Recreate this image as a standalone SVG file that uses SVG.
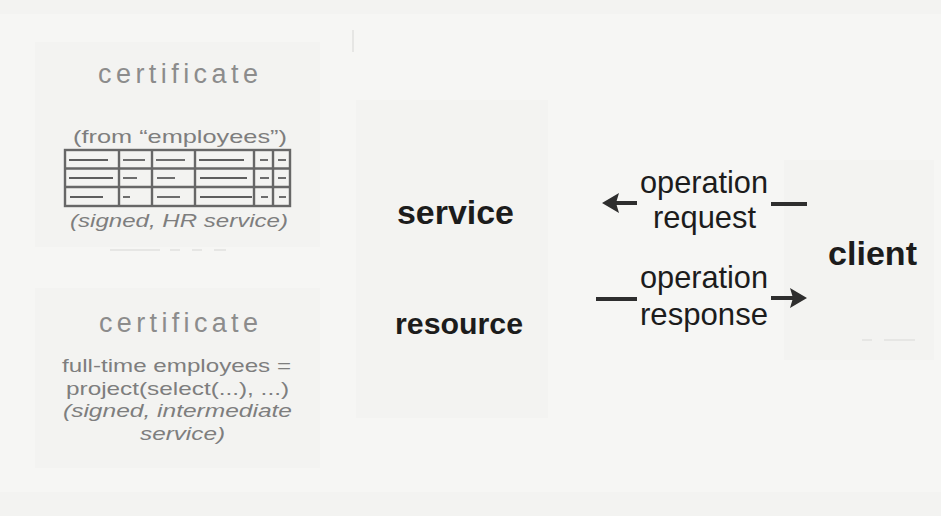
<svg xmlns="http://www.w3.org/2000/svg" width="941" height="516" viewBox="0 0 941 516">
  <defs>
    <style>
      .bg { fill: #f6f6f4; }
      .panel { fill: #f3f3f1; }
      .ghost { stroke: #e6e6e4; stroke-width: 2; fill: none; }
      .cert-title { font-family: "Liberation Sans", Arial, sans-serif; font-size: 27px; fill: #8c8c8c; }
      .cert-text { font-family: "Liberation Sans", Arial, sans-serif; font-size: 19px; fill: #7e7e7e; }
      .cert-note { font-family: "Liberation Sans", Arial, sans-serif; font-size: 19px; font-style: italic; fill: #7e7e7e; }
      .label-bold { font-family: "Liberation Sans", Arial, sans-serif; font-weight: bold; fill: #1c1c1c; }
      .label { font-family: "Liberation Sans", Arial, sans-serif; font-size: 30.5px; fill: #1c1c1c; }
      .grid { fill: none; stroke: #676767; stroke-width: 2.4; }
      .cell-line { stroke: #5e5e5e; stroke-width: 1.8; }
      .wire { fill: none; stroke: #2e2e2e; stroke-width: 4; }
    </style>
    <marker id="head" markerUnits="userSpaceOnUse" viewBox="0 0 17 20" markerWidth="17" markerHeight="20" refX="3" refY="10" orient="auto">
      <path d="M0,0 L17,10 L0,20 L3,10 z" fill="#2e2e2e"/>
    </marker>
  </defs>

  <!-- paper -->
  <rect class="bg" x="0" y="0" width="941" height="516"/>
  <rect x="0" y="0" width="941" height="14" fill="#f3f3f1"/>
  <rect x="0" y="492" width="941" height="24" fill="#f3f3f1"/>

  <!-- faint panel outlines -->
  <rect class="panel" x="35" y="42" width="285" height="205"/>
  <rect class="panel" x="35" y="288" width="285" height="180"/>
  <rect class="panel" x="356" y="100" width="192" height="318"/>
  <rect class="panel" x="784" y="160" width="150" height="200"/>
  <line class="ghost" x1="353" y1="30" x2="353" y2="52"/>
  <line class="ghost" x1="110" y1="250" x2="160" y2="250"/>
  <line class="ghost" x1="170" y1="250" x2="180" y2="250"/>
  <line class="ghost" x1="192" y1="250" x2="202" y2="250"/>
  <line class="ghost" x1="214" y1="250" x2="226" y2="250"/>
  <line class="ghost" x1="862" y1="340" x2="872" y2="340"/>
  <line class="ghost" x1="884" y1="340" x2="915" y2="340"/>

  <!-- upper certificate: signed HR table -->
  <g id="cert-employees">
    <text class="cert-title" x="98" y="83" textLength="160" lengthAdjust="spacing">certificate</text>
    <text class="cert-text" x="73" y="143" textLength="214" lengthAdjust="spacingAndGlyphs">(from “employees”)</text>
    <g id="employees-table">
      <rect class="grid" x="65" y="150" width="225" height="56"/>
      <line class="grid" x1="65" y1="168.5" x2="290" y2="168.5"/>
      <line class="grid" x1="65" y1="187" x2="290" y2="187"/>
      <line class="grid" x1="119" y1="150" x2="119" y2="206"/>
      <line class="grid" x1="152" y1="150" x2="152" y2="206"/>
      <line class="grid" x1="195" y1="150" x2="195" y2="206"/>
      <line class="grid" x1="254" y1="150" x2="254" y2="206"/>
      <line class="grid" x1="273" y1="150" x2="273" y2="206"/>
      <!-- row 1 -->
      <line class="cell-line" x1="69" y1="160" x2="108" y2="160"/>
      <line class="cell-line" x1="123" y1="160" x2="145" y2="160"/>
      <line class="cell-line" x1="156" y1="160" x2="185" y2="160"/>
      <line class="cell-line" x1="199" y1="160" x2="244" y2="160"/>
      <line class="cell-line" x1="260" y1="160" x2="268" y2="160"/>
      <line class="cell-line" x1="278" y1="160" x2="286" y2="160"/>
      <!-- row 2 -->
      <line class="cell-line" x1="69" y1="178" x2="113" y2="178"/>
      <line class="cell-line" x1="123" y1="178" x2="137" y2="178"/>
      <line class="cell-line" x1="157" y1="178" x2="175" y2="178"/>
      <line class="cell-line" x1="200" y1="178" x2="247" y2="178"/>
      <line class="cell-line" x1="260" y1="178" x2="269" y2="178"/>
      <line class="cell-line" x1="278" y1="178" x2="286" y2="178"/>
      <!-- row 3 -->
      <line class="cell-line" x1="70" y1="197" x2="103" y2="197"/>
      <line class="cell-line" x1="123" y1="197" x2="130" y2="197"/>
      <line class="cell-line" x1="157" y1="197" x2="180" y2="197"/>
      <line class="cell-line" x1="200" y1="197" x2="252" y2="197"/>
      <line class="cell-line" x1="261" y1="197" x2="268" y2="197"/>
      <line class="cell-line" x1="279" y1="197" x2="286" y2="197"/>
    </g>
    <text class="cert-note" x="70" y="227" textLength="218" lengthAdjust="spacingAndGlyphs">(signed, HR service)</text>
  </g>

  <!-- lower certificate: derived view -->
  <g id="cert-fulltime">
    <text class="cert-title" x="99" y="332" textLength="159" lengthAdjust="spacing">certificate</text>
    <text class="cert-text" x="62" y="372" textLength="229" lengthAdjust="spacingAndGlyphs">full-time employees =</text>
    <text class="cert-text" x="66" y="395" textLength="223" lengthAdjust="spacingAndGlyphs">project(select(...), ...)</text>
    <text class="cert-note" x="63" y="417" textLength="229" lengthAdjust="spacingAndGlyphs">(signed, intermediate</text>
    <text class="cert-note" x="140" y="440" textLength="85" lengthAdjust="spacingAndGlyphs">service)</text>
  </g>

  <!-- service node -->
  <g id="service">
    <text class="label-bold" x="397" y="224" font-size="34" textLength="117" lengthAdjust="spacingAndGlyphs">service</text>
    <text class="label-bold" x="395" y="334" font-size="30" textLength="128" lengthAdjust="spacingAndGlyphs">resource</text>
  </g>

  <!-- client node -->
  <g id="client">
    <text class="label-bold" x="828" y="265" font-size="34" textLength="89" lengthAdjust="spacingAndGlyphs">client</text>
  </g>

  <!-- request / response flow -->
  <g id="connectors">
    <g id="request">
      <path class="wire" d="M807,204 L771,204"/>
      <path class="wire" d="M637,203 L616,203" marker-end="url(#head)"/>
      <text class="label" x="640" y="193" textLength="128" lengthAdjust="spacingAndGlyphs">operation</text>
      <text class="label" x="653" y="228" textLength="103" lengthAdjust="spacingAndGlyphs">request</text>
    </g>
    <g id="response">
      <path class="wire" d="M596,299 L637,299"/>
      <path class="wire" d="M771,298 L793,298" marker-end="url(#head)"/>
      <text class="label" x="640" y="288" textLength="128" lengthAdjust="spacingAndGlyphs">operation</text>
      <text class="label" x="640" y="325" textLength="128" lengthAdjust="spacingAndGlyphs">response</text>
    </g>
  </g>
</svg>
